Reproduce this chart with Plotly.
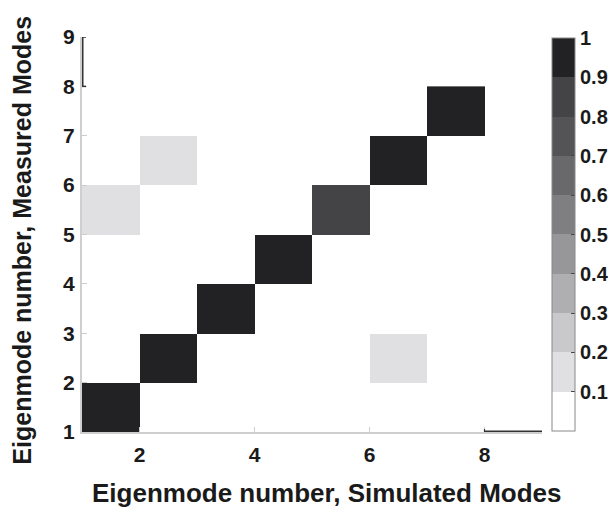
import plotly.graph_objects as go

# Data: MAC matrix (rows = measured mode bins 1..7, cols = simulated mode bins 1..7)
x_edges = [1, 2, 3, 4, 5, 6, 7, 8]
y_edges = [1, 2, 3, 4, 5, 6, 7, 8]
mac = [
    [0.97, 0.00, 0.00, 0.00, 0.00, 0.00, 0.00],
    [0.00, 0.97, 0.00, 0.00, 0.00, 0.15, 0.00],
    [0.00, 0.00, 0.97, 0.00, 0.00, 0.00, 0.00],
    [0.00, 0.00, 0.00, 0.97, 0.00, 0.00, 0.00],
    [0.15, 0.00, 0.00, 0.00, 0.85, 0.00, 0.00],
    [0.00, 0.15, 0.00, 0.00, 0.00, 0.97, 0.00],
    [0.00, 0.00, 0.00, 0.00, 0.00, 0.00, 0.97],
]
cbar_ticks = [0.1, 0.2, 0.3, 0.4, 0.5, 0.6, 0.7, 0.8, 0.9, 1]
x_ticks = [2, 4, 6, 8]
y_ticks = [1, 2, 3, 4, 5, 6, 7, 8, 9]
x_title = "Eigenmode number, Simulated Modes"
y_title = "Eigenmode number, Measured Modes"

band_colors = ["#ffffff", "#e0e0e2", "#c9c9cb", "#afafb1", "#979799",
               "#7f7f81", "#69696b", "#545456", "#444446", "#222224"]
colorscale = []
n = len(band_colors)
for i, c in enumerate(band_colors):
    colorscale.append([i / n, c])
    colorscale.append([(i + 1) / n, c])

font_family = "Liberation Sans, Arial, sans-serif"
txt = "#1a1a1a"

fig = go.Figure(go.Heatmap(
    z=mac, x=x_edges, y=y_edges,
    zmin=0, zmax=1, colorscale=colorscale,
    colorbar=dict(
        x=1.0217, xanchor="left", xpad=0, ypad=0,
        y=0.5, yanchor="middle", len=0.995, lenmode="fraction",
        thickness=23, outlinecolor="#888888", outlinewidth=1,
        tickvals=cbar_ticks, ticktext=[str(t) for t in cbar_ticks],
        ticks="inside", ticklen=4, tickcolor="#444444",
        tickfont=dict(family=font_family, size=20, color=txt, weight="bold"),
    ),
    showscale=True,
))

# the page body has an 8px default margin, so the figure is 8px smaller
fig.update_layout(
    width=608, height=504,
    margin=dict(l=74, r=74, t=29, b=80, autoexpand=False),
    plot_bgcolor="white", paper_bgcolor="white",
    showlegend=False,
    xaxis=dict(
        range=[1, 9], tickvals=x_ticks, ticks="inside", ticklen=5,
        tickcolor="#cccccc", showline=True, linecolor="#cfcfcf", linewidth=2,
        showgrid=False, zeroline=False, automargin=False,
        ticklabelstandoff=3,
        tickfont=dict(family=font_family, size=21, color=txt, weight="bold"),
    ),
    yaxis=dict(
        range=[1, 9], tickvals=y_ticks, ticks="inside", ticklen=5,
        tickcolor="#cccccc", showline=True, linecolor="#cfcfcf", linewidth=2,
        showgrid=False, zeroline=False, automargin=False,
        ticklabelstandoff=1,
        tickfont=dict(family=font_family, size=21, color=txt, weight="bold"),
    ),
    annotations=[
        dict(text=x_title, xref="paper", yref="paper", x=0.5326, y=-0.154,
             xanchor="center", yanchor="middle", showarrow=False,
             font=dict(family=font_family, size=26, color=txt, weight="bold")),
        dict(text=y_title, xref="paper", yref="paper", x=-0.13, y=0.485,
             xanchor="center", yanchor="middle", showarrow=False, textangle=-90,
             font=dict(family=font_family, size=25, color=txt, weight="bold")),
    ],
    shapes=[
        dict(type="line", xref="x", yref="y", x0=8, x1=9, y0=1, y1=1,
             line=dict(color="#333333", width=3)),
        dict(type="line", xref="x", yref="y", x0=8, x1=8, y0=1, y1=1.06,
             line=dict(color="#333333", width=1.2)),
        dict(type="line", xref="x", yref="y", x0=1, x1=1, y0=8, y1=9,
             line=dict(color="#333333", width=3)),
        dict(type="line", xref="x", yref="y", x0=1, x1=1.07, y0=9, y1=9,
             line=dict(color="#333333", width=1.5)),
        dict(type="line", xref="x", yref="y", x0=1, x1=1.07, y0=8, y1=8,
             line=dict(color="#333333", width=1.5)),
    ],
)

fig.write_html("out.html")
